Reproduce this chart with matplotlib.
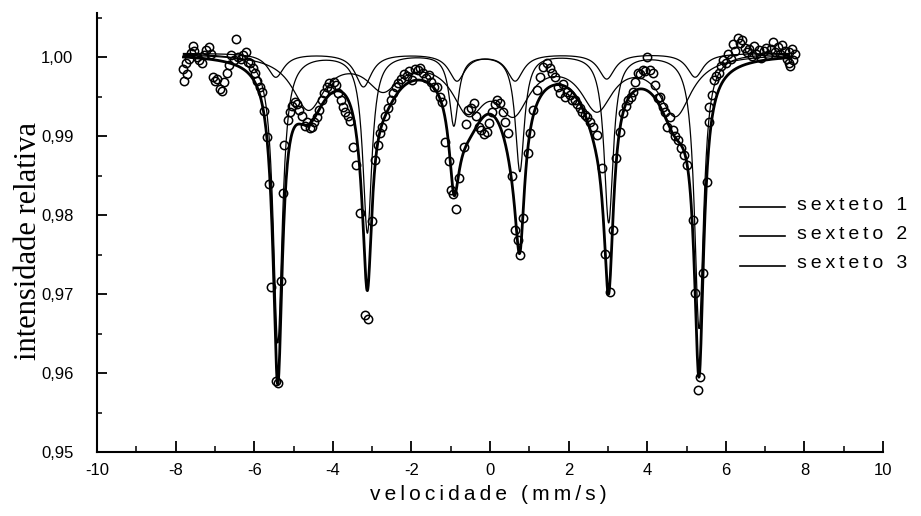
import numpy as np
import matplotlib
matplotlib.use('Agg')
import matplotlib.pyplot as plt
from matplotlib.lines import Line2D
from matplotlib.ticker import MultipleLocator

plt.rcParams['font.family'] = ['Liberation Sans', 'DejaVu Sans']

# espectro medido: velocidade (mm/s) e intensidade relativa
vel = [-7.80, -7.78, -7.74, -7.70, -7.66, -7.62, -7.56, -7.52, -7.46, -7.40,
       -7.34, -7.28, -7.22, -7.16, -7.10, -7.05, -7.00, -6.94, -6.88, -6.82,
       -6.76, -6.70, -6.64, -6.58, -6.52, -6.46, -6.40, -6.34, -6.28, -6.22,
       -6.16, -6.10, -6.04, -5.98, -5.92, -5.86, -5.80, -5.74, -5.68, -5.63,
       -5.56, -5.45, -5.40, -5.31, -5.27, -5.23, -5.15, -5.09, -5.03, -4.97,
       -4.91, -4.85, -4.78, -4.71, -4.65, -4.59, -4.53, -4.47, -4.40, -4.34,
       -4.28, -4.22, -4.16, -4.10, -4.04, -3.98, -3.92, -3.86, -3.80, -3.74,
       -3.68, -3.62, -3.56, -3.49, -3.42, -3.31, -3.17, -3.11, -3.01, -2.93,
       -2.86, -2.80, -2.74, -2.67, -2.60, -2.53, -2.46, -2.40, -2.33, -2.26,
       -2.19, -2.12, -2.05, -1.98, -1.91, -1.84, -1.77, -1.70, -1.63, -1.56,
       -1.49, -1.42, -1.35, -1.28, -1.22, -1.15, -1.05, -0.98, -0.94, -0.86,
       -0.78, -0.66, -0.60, -0.55, -0.48, -0.41, -0.35, -0.29, -0.22, -0.15,
       -0.08, -0.02, 0.05, 0.12, 0.18, 0.25, 0.32, 0.38, 0.46, 0.56,
       0.64, 0.72, 0.76, 0.84, 0.97, 1.02, 1.09, 1.19, 1.27, 1.35,
       1.45, 1.52, 1.58, 1.65, 1.72, 1.78, 1.85, 1.91, 1.96, 2.03,
       2.09, 2.16, 2.22, 2.28, 2.35, 2.41, 2.47, 2.54, 2.62, 2.72,
       2.85, 2.93, 3.05, 3.13, 3.21, 3.31, 3.38, 3.45, 3.51, 3.58,
       3.64, 3.70, 3.76, 3.82, 3.89, 3.95, 4.00, 4.06, 4.14, 4.21,
       4.27, 4.33, 4.40, 4.45, 4.51, 4.58, 4.66, 4.72, 4.78, 4.86,
       4.93, 5.01, 5.17, 5.22, 5.29, 5.34, 5.42, 5.52, 5.56, 5.58,
       5.64, 5.69, 5.76, 5.82, 5.88, 5.94, 6.00, 6.06, 6.12, 6.18,
       6.24, 6.30, 6.36, 6.42, 6.48, 6.54, 6.60, 6.66, 6.72, 6.78,
       6.84, 6.90, 6.96, 7.02, 7.08, 7.14, 7.20, 7.26, 7.32, 7.38,
       7.44, 7.50, 7.56, 7.60, 7.62, 7.64, 7.68, 7.72, 7.75]
intens = [0.9985, 0.9970, 0.9993, 0.9978, 0.9998, 1.0005, 1.0014, 1.0008, 1.0000, 0.9996,
          0.9993, 1.0003, 1.0009, 1.0013, 1.0004, 0.9975, 0.9970, 0.9972, 0.9960, 0.9957,
          0.9968, 0.9980, 0.9990, 1.0002, 0.9996, 1.0023, 1.0000, 0.9998, 1.0003, 1.0006,
          0.9994, 0.9992, 0.9986, 0.9980, 0.9970, 0.9962, 0.9956, 0.9932, 0.9899, 0.9839,
          0.9709, 0.9590, 0.9587, 0.9716, 0.9828, 0.9888, 0.9920, 0.9930, 0.9938, 0.9943,
          0.9940, 0.9933, 0.9925, 0.9913, 0.9918, 0.9910, 0.9911, 0.9918, 0.9924, 0.9933,
          0.9946, 0.9955, 0.9962, 0.9967, 0.9960, 0.9968, 0.9965, 0.9955, 0.9946, 0.9937,
          0.9930, 0.9925, 0.9919, 0.9886, 0.9863, 0.9803, 0.9673, 0.9668, 0.9792, 0.9870,
          0.9888, 0.9904, 0.9912, 0.9925, 0.9936, 0.9945, 0.9955, 0.9962, 0.9967, 0.9972,
          0.9978, 0.9976, 0.9982, 0.9971, 0.9985, 0.9983, 0.9986, 0.9980, 0.9974, 0.9977,
          0.9968, 0.9962, 0.9962, 0.9950, 0.9943, 0.9892, 0.9868, 0.9832, 0.9826, 0.9808,
          0.9847, 0.9886, 0.9915, 0.9933, 0.9935, 0.9942, 0.9925, 0.9912, 0.9908, 0.9903,
          0.9905, 0.9916, 0.9930, 0.9940, 0.9946, 0.9942, 0.9930, 0.9918, 0.9904, 0.9850,
          0.9781, 0.9768, 0.9750, 0.9796, 0.9878, 0.9904, 0.9933, 0.9958, 0.9975, 0.9987,
          0.9992, 0.9986, 0.9980, 0.9975, 0.9962, 0.9955, 0.9966, 0.9950, 0.9956, 0.9952,
          0.9946, 0.9945, 0.9940, 0.9935, 0.9930, 0.9926, 0.9924, 0.9918, 0.9911, 0.9901,
          0.9860, 0.9751, 0.9702, 0.9781, 0.9872, 0.9905, 0.9929, 0.9938, 0.9946, 0.9950,
          0.9956, 0.9968, 0.9980, 0.9978, 0.9984, 0.9982, 1.0000, 0.9983, 0.9980, 0.9965,
          0.9948, 0.9950, 0.9937, 0.9930, 0.9911, 0.9924, 0.9908, 0.9900, 0.9895, 0.9885,
          0.9876, 0.9863, 0.9794, 0.9701, 0.9578, 0.9595, 0.9727, 0.9842, 0.9918, 0.9937,
          0.9952, 0.9971, 0.9976, 0.9980, 0.9988, 0.9996, 0.9992, 1.0004, 0.9998, 1.0016,
          1.0008, 1.0024, 1.0018, 1.0022, 1.0012, 1.0006, 1.0010, 1.0001, 1.0014, 1.0004,
          1.0009, 0.9999, 1.0008, 1.0012, 1.0003, 1.0010, 1.0019, 1.0006, 1.0013, 1.0004,
          1.0015, 1.0008, 0.9998, 1.0006, 0.9992, 0.9988, 1.0010, 0.9996, 1.0004]

# sextetos ajustados: posicao das linhas, profundidade e meia largura
linha_base = 1.0005
s1_pos = [-5.40, -3.12, -0.92, 0.76, 3.02, 5.32]
s1_prof = [0.0366, 0.0226, 0.0090, 0.0148, 0.0213, 0.0348]
s1_hw = 0.14
s2_pos = [-4.62, -2.72, -0.55, 0.60, 2.72, 4.72]
s2_prof = [0.0068, 0.0040, 0.0065, 0.0065, 0.0065, 0.0075]
s2_hw = 0.50
s3_pos = [-5.45, -3.22, -0.84, 0.64, 2.97, 5.22]
s3_prof = [0.0030, 0.0042, 0.0034, 0.0034, 0.0032, 0.0030]
s3_hw = 0.25

legenda = ['sexteto 1', 'sexteto 2', 'sexteto 3']
y_ticks = [0.95, 0.96, 0.97, 0.98, 0.99, 1.00]
y_rotulos = ['0,95', '0,96', '0,97', '0,98', '0,99', '1,00']
x_ticks = [-10, -8, -6, -4, -2, 0, 2, 4, 6, 8, 10]


def sexteto(v, pos, prof, hw):
    return sum(p / (1 + ((v - c) / hw) ** 2) for c, p in zip(pos, prof))


def espacado(s):
    return '\u2009'.join(s)


v = np.linspace(-7.80, 7.62, 1500)
c1 = sexteto(v, s1_pos, s1_prof, s1_hw)
c2 = sexteto(v, s2_pos, s2_prof, s2_hw)
c3 = sexteto(v, s3_pos, s3_prof, s3_hw)

fig = plt.figure(figsize=(9.21, 5.16), dpi=100)
ax = fig.add_axes([97 / 921, 64 / 516, 786 / 921, 439 / 516])

for c in (c1, c2, c3):
    ax.plot(v, linha_base - c, color='black', lw=0.9)
ax.plot(v, linha_base - (c1 + c2 + c3), color='black', lw=2.0)
ax.plot(vel, intens, 'o', ms=6, mfc='none', mec='black', mew=1.1)

ax.set_xlim(-10, 10)
ax.set_ylim(0.95, 1.00557)
ax.set_xticks(x_ticks)
ax.set_xticklabels([str(t) for t in x_ticks])
ax.set_yticks(y_ticks)
ax.set_yticklabels(y_rotulos)
ax.xaxis.set_minor_locator(MultipleLocator(1))
ax.yaxis.set_minor_locator(MultipleLocator(0.005))

for lado in ('top', 'right'):
    ax.spines[lado].set_visible(False)
for lado in ('left', 'bottom'):
    ax.spines[lado].set_linewidth(1.5)

ax.tick_params(axis='x', which='major', direction='in', length=8, width=1.3,
               labelsize=12, pad=8)
ax.tick_params(axis='x', which='minor', direction='in', length=4, width=1.1)
ax.tick_params(axis='y', which='major', direction='in', length=7, width=1.3,
               labelsize=12, pad=17)
ax.tick_params(axis='y', which='minor', direction='in', length=3.5, width=1.1)

fig.text(488 / 921, 1 - 494 / 516, espacado('velocidade (mm/s)'), fontsize=15,
         ha='center', va='center')
fig.text(29 / 921, 1 - 241 / 516, 'intensidade relativa', rotation=90,
         family=['Liberation Serif', 'DejaVu Serif'], fontsize=22,
         ha='center', va='center')

# legenda manual, cortada na borda direita
for i, nome in enumerate(legenda):
    y = 1 - (205 + 29.5 * i) / 516
    fig.add_artist(Line2D([740 / 921, 785 / 921], [y - 0.003, y - 0.003],
                          transform=fig.transFigure, color='black', lw=1.2))
    fig.text(797 / 921, y, espacado(nome), fontsize=14, ha='left', va='center')

fig.savefig('out.png', dpi=100)
